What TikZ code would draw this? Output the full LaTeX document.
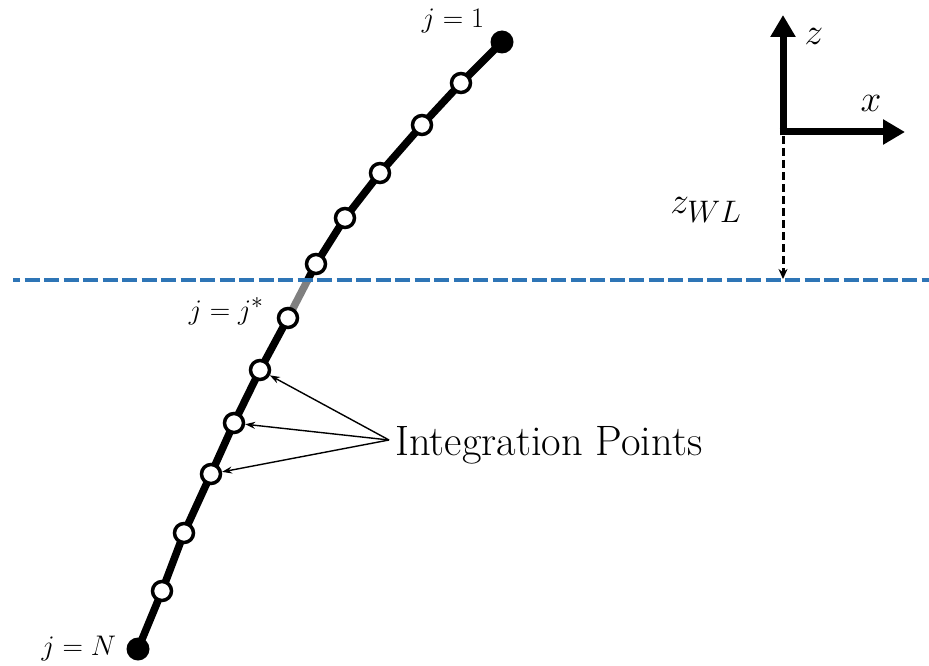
\documentclass[tikz,border=0pt]{standalone}
\usetikzlibrary{arrows.meta,calc,positioning,backgrounds}
\definecolor{wlblue}{HTML}{2E75B6}
\tikzset{
  ipt/.style={circle, draw, fill=white, line width=3.5pt, inner sep=0pt, minimum size=19pt},
  endpt/.style={circle, fill=black, inner sep=0pt, minimum size=23pt},
  lbl/.style={font=\Huge, scale=1.14, inner sep=0pt},
  axlbl/.style={font=\Huge, scale=1.5, inner sep=0pt},
  pole/.style={line width=7.5pt}
}
\begin{document}
\begin{tikzpicture}[x=1pt,y=-1pt]
\useasboundingbox (0,0) rectangle (929,666);
% water line
\draw[wlblue, line width=4.5pt, dash pattern=on 15pt off 4.5pt, dash phase=8pt] (13,280) -- (929,280);
% pole nodes
\node[endpt] (top) at (502,42) {};
\node[ipt] (c1) at (461,83) {};
\node[ipt] (c2) at (422,125) {};
\node[ipt] (c3) at (380,173) {};
\node[ipt] (c4) at (345,218) {};
\node[ipt] (c5) at (316,264) {};
\node[ipt] (cs) at (288,318) {};
\node[ipt] (c6) at (260,370) {};
\node[ipt] (c7) at (234,423) {};
\node[ipt] (c8) at (211,474) {};
\node[ipt] (c9) at (184,533) {};
\node[ipt] (c10) at (162,591) {};
\node[endpt] (bot) at (138,649) {};
\coordinate (wx) at ($(c5)!0.31!(cs)$);
\begin{scope}[on background layer]
\draw[pole] (top.center) -- (c1.center) -- (c2.center) -- (c3.center) -- (c4.center) -- (c5.center) -- (wx);
\draw[pole, gray] (wx) -- (cs.center);
\draw[pole] (cs.center) -- (c6.center) -- (c7.center) -- (c8.center) -- (c9.center) -- (c10.center) -- (bot.center);
\end{scope}
% labels
\node[lbl] (l1) at (453,21) {$j=1$};
\node[lbl, left=13pt of cs, yshift=6pt] (ls) {$j=j^*$};
\node[lbl, left=10pt of bot] (ln) {$j=N$};
% integration points
\node[font=\fontsize{42.5}{46}\selectfont, inner sep=0pt, anchor=base west] (ip) at (395,455) {Integration Points};
\coordinate (ipo) at (389,440);
\foreach \c in {c6,c7,c8}
  \draw[line width=1.4pt, -{Stealth[length=10pt,width=7pt]}] (ipo) -- (\c);
% axes
\coordinate (o) at (783,132);
\coordinate (ztip) at (783,15);
\coordinate (xtip) at (905,132);
\coordinate (wl) at (783,279);
\draw[line width=7pt, -{Triangle[length=22pt,width=24pt]}] ($(o)+(0,3.5)$) -- (ztip);
\draw[line width=7pt, -{Triangle[length=22pt,width=24pt]}] ($(o)+(-3.5,0)$) -- (xtip);
\node[axlbl] (zl) at (814,36) {$z$};
\node[axlbl] (xl) at (871,103) {$x$};
\draw[line width=3pt, dash pattern=on 8pt off 4pt, -{Stealth[length=10pt,width=9pt]}] ($(o)+(0,4)$) -- (wl);
\node[axlbl] (zwl) at (706,210) {$z_{WL}$};
\end{tikzpicture}
\end{document}
